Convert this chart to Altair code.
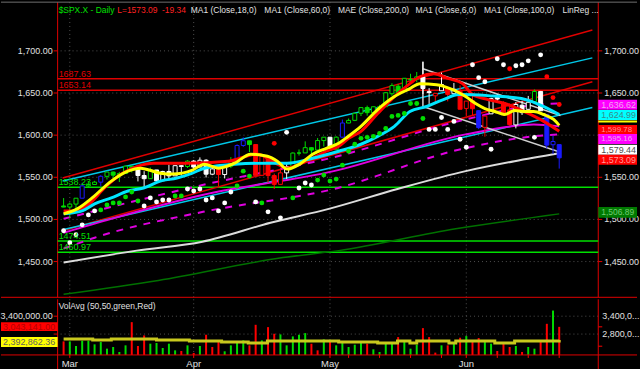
import altair as alt
import pandas as pd

FONT = "Liberation Sans"

# ---------------- data ----------------
# trading-day index: 0 = 28 Feb 2013 ... 80 = 24 Jun 2013
opens = [1515.99, 1514.68, 1518.20, 1525.20, 1539.79, 1541.46, 1544.26, 1551.15, 1556.22, 1552.48,
         1554.52, 1563.21, 1560.70, 1552.10, 1548.34, 1558.71, 1545.90, 1556.89, 1551.69, 1563.75,
         1562.86, 1569.18, 1562.17, 1570.25, 1553.69, 1559.98, 1553.26, 1563.11, 1568.61, 1587.73,
         1593.30, 1588.84, 1552.36, 1574.57, 1552.03, 1541.61, 1555.25, 1562.50, 1578.78, 1578.93,
         1585.16, 1582.34, 1593.58, 1597.55, 1582.77, 1597.60, 1614.40, 1617.55, 1625.95, 1632.69,
         1626.69, 1632.10, 1633.75, 1649.13, 1658.07, 1652.45, 1665.71, 1666.20, 1669.39, 1651.62,
         1646.67, 1652.63, 1656.57, 1649.14, 1652.13, 1631.71, 1640.73, 1629.05, 1609.29, 1625.27,
         1644.67, 1638.64, 1629.94, 1612.15, 1635.52, 1630.64, 1639.77, 1651.83, 1624.62, 1588.62,
         1588.77]
highs = [1525.34, 1519.99, 1525.27, 1543.47, 1545.25, 1545.78, 1552.48, 1556.27, 1556.77, 1556.39,
         1563.32, 1563.62, 1560.70, 1557.25, 1561.56, 1558.71, 1557.74, 1564.91, 1563.95, 1564.07,
         1570.28, 1570.57, 1573.66, 1571.47, 1562.60, 1559.98, 1563.07, 1573.89, 1589.07, 1597.35,
         1593.30, 1588.84, 1575.35, 1574.57, 1554.38, 1560.33, 1565.55, 1579.58, 1583.00, 1592.64,
         1585.78, 1596.65, 1597.57, 1597.55, 1598.60, 1618.46, 1619.77, 1626.03, 1632.78, 1635.01,
         1633.70, 1636.00, 1651.10, 1661.49, 1660.51, 1667.47, 1672.84, 1674.93, 1687.18, 1655.83,
         1649.78, 1674.21, 1656.57, 1661.91, 1658.99, 1640.42, 1646.53, 1629.31, 1622.56, 1644.40,
         1648.69, 1640.13, 1637.71, 1639.25, 1640.80, 1646.50, 1654.19, 1652.45, 1624.62, 1599.19,
         1588.77]
lows = [1514.46, 1501.48, 1512.29, 1525.20, 1538.11, 1541.46, 1539.19, 1547.36, 1548.24, 1544.37,
        1554.52, 1555.74, 1545.13, 1538.57, 1548.34, 1543.55, 1545.90, 1546.22, 1551.69, 1551.90,
        1561.08, 1558.47, 1562.17, 1549.80, 1552.52, 1539.50, 1548.63, 1560.92, 1568.61, 1586.17,
        1579.97, 1552.28, 1552.36, 1543.69, 1536.03, 1541.61, 1548.19, 1562.50, 1575.80, 1578.93,
        1577.56, 1582.34, 1586.50, 1581.28, 1582.77, 1597.60, 1614.21, 1616.64, 1622.70, 1623.09,
        1623.71, 1626.74, 1633.75, 1646.68, 1648.60, 1652.45, 1663.52, 1662.67, 1648.86, 1635.53,
        1636.88, 1652.63, 1640.05, 1648.61, 1630.74, 1622.72, 1623.62, 1607.09, 1598.23, 1625.27,
        1639.26, 1622.92, 1610.92, 1608.07, 1623.96, 1630.34, 1639.77, 1628.91, 1584.32, 1577.70,
        1560.33]
closes = [1514.68, 1518.20, 1525.20, 1539.79, 1541.46, 1544.26, 1551.18, 1556.22, 1552.48, 1554.52,
          1563.23, 1560.70, 1552.10, 1548.34, 1558.71, 1545.80, 1556.89, 1551.69, 1563.77, 1562.85,
          1569.19, 1562.17, 1570.25, 1553.69, 1559.98, 1553.28, 1563.07, 1568.61, 1587.73, 1593.37,
          1588.85, 1552.36, 1574.57, 1552.01, 1541.61, 1555.25, 1562.50, 1578.78, 1578.79, 1585.16,
          1582.24, 1593.61, 1597.57, 1582.70, 1597.59, 1614.42, 1617.50, 1625.96, 1632.69, 1626.67,
          1633.70, 1633.77, 1650.34, 1658.78, 1650.47, 1667.47, 1666.29, 1669.16, 1655.35, 1650.51,
          1649.60, 1660.06, 1648.36, 1654.41, 1630.74, 1640.42, 1631.38, 1608.90, 1622.56, 1643.38,
          1642.81, 1626.13, 1612.52, 1636.36, 1626.73, 1639.04, 1651.81, 1628.93, 1588.19, 1592.43,
          1573.09]
candle_colours = ("GGGBGGBGGG" "GGWWGWWWWW" "GWWWWRWGBB" "GRRRRRWGGG" "GGGWGBGGGG"
                  "GGGGGGGGWW" "RWRWRRRBRW" "WRRWWWGWBB" "B")

volumes = [2555, 2555, 2400, 2578, 2578, 2456, 2533, 2311, 2367, 2200,
           2422, 3200, 2400, 2755, 2478, 2500, 2333, 2478, 2255, 2233,
           2422, 2167, 2400, 2778, 2367, 2533, 2222, 2422, 2500, 2589,
           2422, 3111, 2589, 3033, 2811, 2789, 2422, 2722, 2778, 2833,
           2478, 2255, 2622, 2555, 2422, 2533, 2367, 2444, 2500, 2478,
           2289, 2200, 2533, 2478, 2700, 2589, 2311, 2444, 3000, 2700,
           2178, 2422, 2422, 2478, 2678, 2733, 2589, 2667, 2533, 2478,
           2233, 2478, 2367, 2400, 2200, 2367, 2311, 2533, 3144, 3589,
           3043]  # thousands
volume_colours = ("RGGGGGGGGG" "GRRRGGGGGR" "GRGRRRGGGG" "RRGRRGGGGG" "RRGRGGGGGR"
                  "GGGGRGGGRR" "RGRGRGRRGG" "RRRGRGGRRG" "R")

dot_prices = [1486.6, 1472.4, 1481.8, 1493.6, 1505.4, 1510.1, 1511.3, 1517.2, 1519.6, 1519.6,
              1526.7, 1532.6, 1521.9, 1516.0, 1525.5, 1520.8, 1523.1, 1523.1, 1527.8, 1527.8,
              1536.1, 1533.7, 1536.1, 1523.1, 1525.5, 1510.1, 1519.6, 1532.6, 1539.6, 1557.3,
              1551.4, 1520.8, 1519.6, 1509.0, 1590.3, 1501.9, 1603.3, 1525.5, 1537.3, 1543.2,
              1540.8, 1546.7, 1552.6, 1545.5, 1547.9, 1564.4, 1580.9, 1589.2, 1596.2, 1597.4,
              1598.6, 1602.1, 1608.0, 1622.2, 1623.4, 1625.7, 1637.5, 1637.5, 1619.8, 1606.8,
              1606.8, 1621.0, 1606.8, 1616.3, 1595.1, 1585.6, 1683.5, 1668.2, 1663.4, 1583.3,
              1690.6, 1683.5, 1678.8, 1682.3, 1683.5, 1688.2, 1597.4, 1695.3, 1669.3, 1644.6,
              1636.3]
dot_colours = ("WWWWWWGGGG" "GGGWWWWWGG" "WWWWWWWWGG" "GWGWRWWGWW" "WGGGGGGGGG"
               "GGGGGGGGGW" "WWWWWWWWWW" "WWRWWWWWRR" "R")

# moving averages (day index, price) read at sample points
yellow_i = [0, 2.2, 4.6, 7.7, 10.4, 12.4, 15.6, 17.6, 20.8, 22.7, 25.0, 27.6, 30.2, 32.9, 34.5, 36.1,
            38.1, 40.2, 42.4, 44.4, 45.5, 48.0, 50.7, 53.4, 55.9, 57.5, 60.2, 62.8, 64.9, 66.5, 68.0,
            69.6, 71.2, 72.8, 74.3, 75.9, 77.5, 79.1, 80]
yellow_p = [1506.6, 1512.5, 1525.5, 1545.5, 1557.3, 1560.8, 1554.9, 1553.8, 1558.5, 1565.6, 1560.8,
            1566.7, 1577.4, 1575.0, 1569.1, 1559.7, 1565.6, 1577.4, 1584.4, 1590.3, 1596.2, 1610.4,
            1630.4, 1645.8, 1655.2, 1661.1, 1659.9, 1654.0, 1645.8, 1637.5, 1631.6, 1628.1, 1624.5,
            1629.2, 1628.1, 1628.1, 1624.5, 1618.6, 1611.6]
red_i = [0, 2.0, 4.1, 6.6, 9.3, 12.0, 14.5, 19.8, 26.6, 31.3, 34.5, 36.1, 38.1, 40.2, 42.4, 44.4,
         46.0, 48.0, 50.7, 53.4, 55.9, 57.5, 59.7, 62.2, 64.4, 66.0, 68.5, 71.2, 74.3, 77.5, 80]
red_p = [1510.1, 1510.1, 1518.4, 1537.3, 1553.8, 1563.2, 1566.7, 1566.7, 1569.1, 1577.4, 1565.6,
         1560.8, 1565.6, 1572.6, 1580.9, 1586.8, 1596.2, 1604.5, 1625.7, 1645.8, 1661.1, 1669.3,
         1672.9, 1667.0, 1661.1, 1648.1, 1642.2, 1637.5, 1628.1, 1616.3, 1604.5]
cyan_i = [0, 3.0, 5.0, 7.7, 10.4, 12.9, 15.6, 18.3, 20.8, 22.7, 27.6, 32.9, 36.1, 40.2, 44.4, 48.0,
          50.7, 53.4, 55.9, 58.6, 61.3, 63.8, 68.5, 73.9, 76.4, 79.1, 80]
cyan_p = [1506.6, 1510.1, 1518.4, 1525.5, 1533.7, 1537.3, 1545.5, 1549.1, 1555.0, 1560.8, 1565.6,
          1566.7, 1566.7, 1572.6, 1580.9, 1589.2, 1598.6, 1610.4, 1628.1, 1634.0, 1642.2, 1648.1,
          1646.9, 1643.4, 1637.5, 1628.1, 1624.5]
white_i = [0, 11.8, 22.4, 33.4, 42.8, 53.9, 64.9, 72.8, 80]
white_p = [1448.8, 1463.0, 1473.6, 1496.0, 1512.5, 1536.1, 1557.3, 1569.1, 1578.5]
dkgreen_i = [0, 15.3, 35.4, 44.4, 63.3, 80]
dkgreen_p = [1411.1, 1427.6, 1454.7, 1463.0, 1488.9, 1506.6]
mae_up_i = [0, 22.4, 43.6, 64.9, 76.7, 80]
mae_up_p = [1500.7, 1540.8, 1573.8, 1618.6, 1636.3, 1637.5]
mae_mid_i = [0, 7.7, 22.4, 43.6, 64.9, 75.9, 80]
mae_mid_p = [1484.2, 1500.7, 1529.0, 1557.3, 1600.9, 1612.7, 1610.4]
mae_lo_i = [0, 5.0, 22.5, 43.6, 64.1, 75.9, 80]
mae_lo_p = [1465.3, 1478.3, 1509.0, 1536.1, 1583.3, 1598.6, 1600.9]

# regression channels and drawn trend lines (end points)
chan_i = [-0.16, 85.35]
red_up_p = [1549.1, 1724.8]
red_lo_p = [1486.6, 1663.4]
cyan_up_p = [1545.5, 1691.7]
cyan_lo_p = [1487.7, 1632.8]
tl_i = [58.0, 80.2]
tl_up_p = [1678.8, 1623.3]
tl_lo_p = [1634.0, 1579.7]
tl_v_i = [58.0, 58.0]
tl_v_p = [1687.2, 1634.0]

# horizontal levels
level_values = [1667.0, 1653.14, 1538.23, 1474.51, 1460.97]
level_labels = ["1687.63", "1653.14", "1538.23", "1474.51", "1460.97"]
level_colours = ["#e00000", "#e00000", "#00e000", "#00e000", "#00e000"]

# right-hand value boxes (drawn in this order, later ones cover earlier ones)
rb_text = ["1,636.62", "1,624.99", "", "1,599.78", "1,595.16", "1,579.44", "1,573.09", "1,506.89"]
rb_pos = [1636.0, 1623.9, 1616.3, 1606.0, 1595.4, 1582.7, 1570.9, 1508.4]
rb_half = [5.9, 5.9, 1.2, 5.9, 5.9, 5.9, 5.9, 6.4]
rb_size = [9, 9, 9, 8, 8, 9, 9, 8.5]
rb_bg = ["#ff00ff", "#00ffff", "#ffff00", "#ff0000", "#ff00ff", "#ffffff", "#ff0000", "#007a00"]
rb_fg = ["#f0a8f0", "#3a8a8a", "#ffff00", "#ff9090", "#f0a8f0", "#505050", "#ff9a9a", "#70c870"]

avg_i = [0, 4.7, 7.7, 12.4, 15.0, 20.3, 25.5, 29.8, 32.9, 38.1, 44.4, 50.7, 53.9, 55.9, 57.0, 62.2,
         63.3, 69.6, 72.8, 78.0, 80]
avg_v = [2633, 2600, 2633, 2633, 2600, 2567, 2533, 2500, 2567, 2567, 2533, 2500, 2567, 2500, 2567,
         2500, 2567, 2500, 2567, 2567, 2600]

month_starts = [1, 21, 43, 65]
month_names = ["Mar", "Apr", "May", "Jun"]
week_ticks = [46, 51, 56, 61, 70, 75, 80]
price_ticks = [1450, 1500, 1550, 1600, 1650, 1700]
price_right_labels = [1450, 1500, 1550, 1650, 1700]   # 1,600.00 is hidden under the value boxes
vol_ticks = [2800000, 3400000]
vol_left_labels = [3400000]                          # 2,800,000.00 is hidden under the value boxes
vol_markers = [3043141, 2392862]

# ---------------- styling ----------------
PAL = {"G": "#00dc00", "W": "#ffffff", "B": "#1a1aff", "R": "#ff0000"}
LBL = "#e0e0e0"
RED = "#e00000"
GRID = "#505050"
PMIN, PMAX = 1407.6, 1757.8
VMIN, VMAX = 2100000, 3966667
PW, PH, VH = 544, 297, 56

XS = alt.Scale(domain=[-0.16, 85.5], nice=False, zero=False)
YS = alt.Scale(domain=[PMIN, PMAX], nice=False, zero=False)
VS = alt.Scale(domain=[VMIN, VMAX], nice=False, zero=False)

n = len(closes)
candles = pd.DataFrame({"i": list(range(n)), "o": opens, "h": highs, "l": lows, "c": closes})
candles["stroke"] = [PAL[k] for k in candle_colours]
candles["fill"] = [PAL[k] if c < o else "#000000" for k, o, c in zip(candle_colours, opens, closes)]
frame = pd.DataFrame({"k": [0]})


def X(field="i"):
    return alt.X(f"{field}:Q", scale=XS, axis=None)


def pline(xs, ps, color, width, dash=None, interp="linear"):
    d = pd.DataFrame({"i": xs, "p": ps})
    props = {"color": color, "strokeWidth": width, "interpolate": interp}
    if dash is not None:
        props["strokeDash"] = dash
    return alt.Chart(d).mark_line(**props).encode(x=X(), y=alt.Y("p:Q", scale=YS, axis=None))


def htext(txt, xpix, color, ypix=8, size=8.5):
    return alt.Chart(pd.DataFrame({"t": [txt]})).mark_text(
        align="left", baseline="middle", fontSize=size, font=FONT, color=color
    ).encode(x=alt.value(xpix), y=alt.value(ypix), text="t:N")


def frule(color, **enc):
    return alt.Chart(frame).mark_rule(color=color).encode(**{k: alt.value(v) for k, v in enc.items()})


def yaxis_marks(ticks, scale, height, left_labels=None, right_labels=None, right_expr=None):
    d = pd.DataFrame({"v": ticks})
    dl_ = pd.DataFrame({"v": left_labels if left_labels is not None else ticks})
    dr_ = pd.DataFrame({"v": right_labels if right_labels is not None else ticks})
    yenc = alt.Y("v:Q", scale=scale, axis=None)
    grid = alt.Chart(d).mark_rule(color=GRID, strokeDash=[1, 3]).encode(y=yenc)
    lt = alt.Chart(d).mark_rule(color=RED).encode(x=alt.value(-4), x2=alt.value(0), y=yenc)
    rt = alt.Chart(d).mark_rule(color=RED).encode(x=alt.value(PW), x2=alt.value(PW + 4), y=yenc)
    ll = alt.Chart(dl_).mark_text(align="right", baseline="middle", fontSize=9, font=FONT,
                                  color=LBL).encode(x=alt.value(-5), y=yenc,
                                                    text=alt.Text("v:Q", format=",.2f"))
    if right_expr is None:
        rl = alt.Chart(dr_).mark_text(align="left", baseline="middle", fontSize=9, font=FONT,
                                      color=LBL).encode(x=alt.value(PW + 6), y=yenc,
                                                        text=alt.Text("v:Q", format=",.2f"))
    else:
        rl = alt.Chart(dr_).transform_calculate(t=right_expr).mark_text(
            align="left", baseline="middle", fontSize=9, font=FONT, color=LBL
        ).encode(x=alt.value(PW + 4), y=yenc, text="t:N")
        rt = alt.Chart(pd.DataFrame({"v": vol_markers})).mark_rule(color="#ff0000").encode(
            x=alt.value(PW), x2=alt.value(PW + 4), y=alt.Y("v:Q", scale=scale, axis=None))
    dl = frule(RED, x=0, y=0, y2=height)
    dr = frule(RED, x=PW, y=0, y2=height)
    return [grid, lt, rt, ll, rl, dl, dr]


# ---------------- price panel ----------------
levels = pd.DataFrame({"v": level_values, "t": level_labels, "c": level_colours})
level_rules = alt.Chart(levels).mark_rule(strokeWidth=1.5).encode(
    y=alt.Y("v:Q", scale=YS, axis=None), color=alt.Color("c:N", scale=None))
level_text = alt.Chart(levels).mark_text(align="left", baseline="alphabetic", dy=-2, fontSize=9,
                                         font=FONT).encode(
    x=alt.value(1), y=alt.Y("v:Q", scale=YS, axis=None), text="t:N", color=alt.Color("c:N", scale=None))

month_grid = alt.Chart(pd.DataFrame({"i": month_starts})).mark_rule(
    color=GRID, strokeDash=[1, 3]).encode(x=X())

wicks = alt.Chart(candles).mark_rule(strokeWidth=1).encode(
    x=X(), y=alt.Y("l:Q", scale=YS, axis=None), y2="h:Q", color=alt.Color("stroke:N", scale=None))
bodies = alt.Chart(candles).mark_bar(size=4, strokeWidth=1).encode(
    x=X(), y=alt.Y("o:Q", scale=YS, axis=None), y2="c:Q",
    fill=alt.Fill("fill:N", scale=None), stroke=alt.Stroke("stroke:N", scale=None))

dots_df = pd.DataFrame({"i": list(range(n)), "p": dot_prices, "c": [PAL[k] for k in dot_colours]})
dots = alt.Chart(dots_df).mark_circle(size=24, opacity=1).encode(
    x=X(), y=alt.Y("p:Q", scale=YS, axis=None), color=alt.Color("c:N", scale=None))

headers = [
    htext("$SPX.X - Daily", 1, "#00e000"),
    htext("L=1573.09", 60, "#ff2020"),
    htext("-19.34", 105, "#ff2020"),
    htext("MA1 (Close,18,0)", 134, LBL),
    htext("MA1 (Close,60,0)", 208, LBL),
    htext("MAE (Close,200,0)", 282, LBL),
    htext("MA1 (Close,6,0)", 360, LBL),
    htext("MA1 (Close,100,0)", 429, LBL),
    htext("LinReg ...", 508, LBL),
]

rb = pd.DataFrame({"t": rb_text, "pos": rb_pos, "half": rb_half, "bg": rb_bg, "fg": rb_fg})
rb["top"] = rb["pos"] + rb["half"]
rb["bot"] = rb["pos"] - rb["half"]
box_layers = []
for k in range(len(rb)):
    row = rb.iloc[[k]]
    box_layers.append(alt.Chart(row).mark_rect().encode(
        x=alt.value(PW), x2=alt.value(PW + 39), y=alt.Y("top:Q", scale=YS, axis=None), y2="bot:Q",
        fill=alt.Fill("bg:N", scale=None)))
    box_layers.append(alt.Chart(row).mark_text(align="left", baseline="middle", fontSize=rb_size[k],
                                               font=FONT).encode(
        x=alt.value(PW + 3), y=alt.Y("pos:Q", scale=YS, axis=None), text="t:N",
        color=alt.Color("fg:N", scale=None)))

price_layers = (
    [month_grid] + yaxis_marks(price_ticks, YS, PH, right_labels=price_right_labels) +
    [frule("#707070", x=-57, x2=PW + 39, y=0), frule(RED, x=-57, x2=PW + 39, y=PH), level_rules,
     pline(chan_i, red_up_p, RED, 1.5), pline(chan_i, red_lo_p, RED, 1.5),
     pline(chan_i, cyan_up_p, "#00c8e8", 1.5), pline(chan_i, cyan_lo_p, "#00c8e8", 1.5),
     pline(dkgreen_i, dkgreen_p, "#007000", 1.5, interp="monotone"),
     pline(white_i, white_p, "#dcdcdc", 2, interp="monotone"),
     pline(mae_up_i, mae_up_p, "#e000e0", 2, dash=[7, 7], interp="monotone"),
     pline(mae_mid_i, mae_mid_p, "#e000e0", 2, interp="monotone"),
     pline(mae_lo_i, mae_lo_p, "#e000e0", 2, dash=[7, 7], interp="monotone"),
     pline(tl_i, tl_up_p, "#d0d0d0", 1.5), pline(tl_i, tl_lo_p, "#d0d0d0", 1.5),
     pline(tl_v_i, tl_v_p, "#d0d0d0", 1.5),
     wicks, bodies,
     pline(red_i, red_p, "#ff0000", 3, interp="monotone"),
     pline(cyan_i, cyan_p, "#00e5ff", 3, interp="monotone"),
     pline(yellow_i, yellow_p, "#ffff00", 3, interp="monotone"),
     dots, level_text] + headers + box_layers
)
price = alt.layer(*price_layers).properties(width=PW, height=PH)

# ---------------- volume panel ----------------
vol_df = pd.DataFrame({"i": list(range(n)), "v": [v * 1000 for v in volumes],
                       "c": [PAL[k] for k in volume_colours]})

vbars = alt.Chart(vol_df).mark_bar(size=2).encode(
    x=X(), y=alt.Y("v:Q", scale=VS, axis=None),
    y2=alt.datum(VMIN), color=alt.Color("c:N", scale=None))
vgrid = alt.Chart(pd.DataFrame({"i": month_starts})).mark_rule(color=GRID, strokeDash=[1, 3]).encode(x=X())
avg_df = pd.DataFrame({"i": avg_i, "v": [v * 1000 for v in avg_v]})
vavg = alt.Chart(avg_df).mark_line(color="#c8c81e", strokeWidth=3, interpolate="step-after").encode(
    x=X(), y=alt.Y("v:Q", scale=VS, axis=None))

# x axis drawn as marks: ticks at week starts and month starts, month names as labels
xticks = alt.Chart(pd.DataFrame({"i": sorted(month_starts + week_ticks)})).mark_rule(
    color="#ff0000").encode(x=X(), y=alt.value(VH), y2=alt.value(VH + 3))
xlabels = alt.Chart(pd.DataFrame({"i": month_starts, "t": month_names})).mark_text(
    align="center", baseline="middle", fontSize=9.5, font=FONT, color=LBL).encode(
    x=X(), y=alt.value(VH + 9), text="t:N")

lb = pd.DataFrame({"t": ["3,043,141.00", "2,392,862.36"], "pos": [3050000, 2533333],
                   "half": [150000, 166667], "bg": ["#ff0000", "#ffff00"], "fg": ["#b40000", "#606060"]})
lb["top"] = lb["pos"] + lb["half"]
lb["bot"] = lb["pos"] - lb["half"]
lb_rect = alt.Chart(lb).mark_rect().encode(
    x=alt.value(-57), x2=alt.value(0), y=alt.Y("top:Q", scale=VS, axis=None), y2="bot:Q",
    fill=alt.Fill("bg:N", scale=None))
lb_txt = alt.Chart(lb).mark_text(align="left", baseline="middle", fontSize=9, font=FONT).encode(
    x=alt.value(-55), y=alt.Y("pos:Q", scale=VS, axis=None), text="t:N",
    color=alt.Color("fg:N", scale=None))

vtitle = alt.Chart(pd.DataFrame({"t": ["VolAvg (50,50,green,Red)"]})).mark_text(
    align="left", baseline="middle", fontSize=8.5, font=FONT, color=LBL).encode(
    x=alt.value(1), y=alt.value(7), text="t:N")

vol_layers = (
    [vgrid] +
    yaxis_marks(vol_ticks, VS, VH, left_labels=vol_left_labels,
                right_expr="slice(format(datum.v, ',.2f'), 0, 7) + '...'") +
    [vbars, vavg, lb_rect, lb_txt, vtitle, xticks, xlabels,
     frule(RED, x=-57, x2=PW + 39, y=VH),
     frule(RED, x=0, y=VH, y2=VH + 16),
     frule(RED, x=PW, y=VH, y2=VH + 16)]
)
volume = alt.layer(*vol_layers).properties(width=PW, height=VH)

chart = alt.vconcat(price, volume, spacing=0).properties(
    background="#000000", padding=0
).configure_view(stroke=None)

chart.save("out.html", embed_options={"renderer": "svg", "actions": False})
